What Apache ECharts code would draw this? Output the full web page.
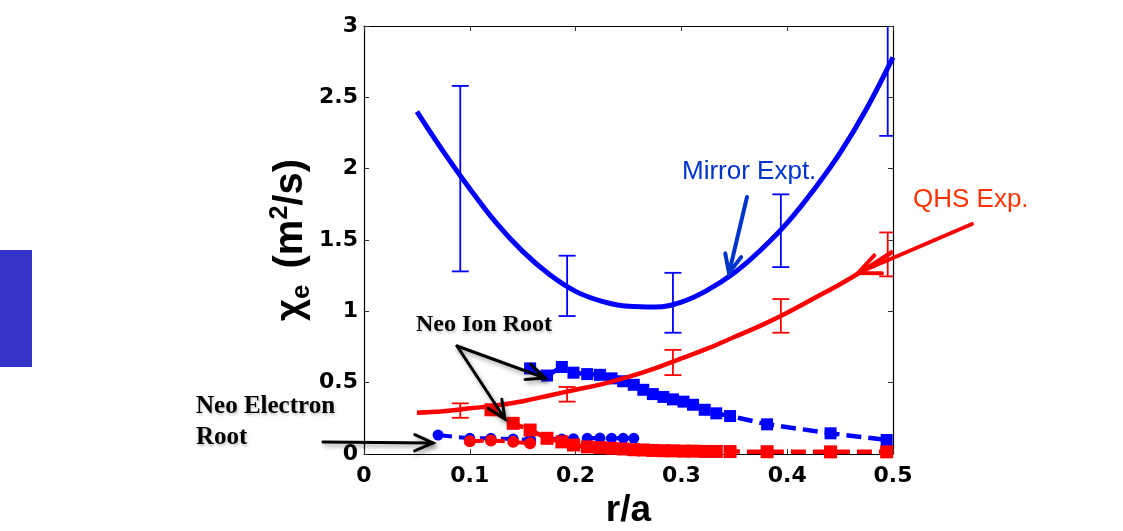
<!DOCTYPE html>
<html><head><meta charset="utf-8">
<script src="https://cdn.jsdelivr.net/npm/echarts@6/dist/echarts.min.js"></script>
<style>html,body{margin:0;padding:0;background:#fff}#c{width:1123px;height:531px}</style>
</head><body><div id="c"></div>
<script>
// ---- data ----
const xTickValues = [0, 0.1, 0.2, 0.3, 0.4, 0.5];
const yTickValues = [0, 0.5, 1, 1.5, 2, 2.5, 3];

// Experimental error bars: [r/a, low, high]
const mirrorErrX = [0.091, 0.192, 0.292, 0.394, 0.495];
const mirrorErrLow = [1.28, 0.967, 0.85, 1.31, 2.23];
const mirrorErrHigh = [2.58, 1.39, 1.27, 1.82, 3.33];

const qhsErrX = [0.091, 0.192, 0.292, 0.394, 0.495];
const qhsErrLow = [0.254, 0.367, 0.553, 0.85, 1.245];
const qhsErrHigh = [0.355, 0.47, 0.73, 1.086, 1.553];

// Fitted curves
const fitX = [0.05, 0.075, 0.1, 0.125, 0.15, 0.175, 0.2, 0.225, 0.25, 0.275, 0.3, 0.325, 0.35, 0.375, 0.4, 0.425, 0.45, 0.475, 0.5];
const mirrorFit = [2.40, 2.12, 1.86, 1.62, 1.42, 1.26, 1.14, 1.07, 1.035, 1.03, 1.065, 1.15, 1.27, 1.43, 1.62, 1.85, 2.11, 2.42, 2.78];
const qhsFit = [0.29, 0.30, 0.32, 0.34, 0.37, 0.41, 0.45, 0.49, 0.54, 0.60, 0.67, 0.74, 0.82, 0.90, 0.99, 1.09, 1.19, 1.30, 1.42];

// Neoclassical ion root (squares)
const neoIonBlueX = [0.157, 0.173, 0.187, 0.198, 0.211, 0.223, 0.234, 0.245, 0.255, 0.264, 0.273, 0.283, 0.292, 0.302, 0.311, 0.322, 0.333, 0.346, 0.381, 0.441, 0.494];
const neoIonBlue = [0.60, 0.55, 0.61, 0.57, 0.56, 0.555, 0.53, 0.51, 0.485, 0.45, 0.42, 0.40, 0.383, 0.367, 0.345, 0.31, 0.285, 0.266, 0.208, 0.145, 0.098];
const neoIonRedX = [0.12, 0.141, 0.157, 0.173, 0.187, 0.198, 0.211, 0.223, 0.234, 0.245, 0.255, 0.264, 0.273, 0.283, 0.292, 0.302, 0.311, 0.322, 0.333, 0.346, 0.381, 0.441, 0.494];
const neoIonRed = [0.31, 0.215, 0.168, 0.11, 0.085, 0.063, 0.05, 0.045, 0.04, 0.035, 0.03, 0.028, 0.025, 0.023, 0.022, 0.02, 0.02, 0.018, 0.018, 0.017, 0.016, 0.015, 0.015];

// Neoclassical electron root (circles)
const neoElecBlueX = [0.07, 0.1, 0.12, 0.141, 0.157, 0.173, 0.187, 0.198, 0.211, 0.223, 0.234, 0.245, 0.255];
const neoElecBlue = [0.133, 0.11, 0.11, 0.105, 0.10, 0.105, 0.105, 0.107, 0.11, 0.112, 0.11, 0.11, 0.11];
const neoElecRedX = [0.1, 0.12, 0.141, 0.157];
const neoElecRed = [0.09, 0.095, 0.085, 0.075];

// ---- helpers ----
const zip = (xs, ys) => xs.map((x, i) => [x, ys[i]]);
const zip3 = (xs, a, b) => xs.map((x, i) => [x, a[i], b[i]]);

function errorBarSeries(data, color) {
  return {
    type: 'custom', data: data, clip: true, z: 3,
    renderItem: function (params, api) {
      const x = api.value(0), lo = api.value(1), hi = api.value(2);
      const p1 = api.coord([x, lo]), p2 = api.coord([x, hi]);
      const hw = 8.5;
      const st = { stroke: color, lineWidth: 1.8 };
      return { type: 'group', children: [
        { type: 'line', shape: { x1: p1[0], y1: p1[1], x2: p2[0], y2: p2[1] }, style: st },
        { type: 'line', shape: { x1: p1[0] - hw, y1: p1[1], x2: p1[0] + hw, y2: p1[1] }, style: st },
        { type: 'line', shape: { x1: p2[0] - hw, y1: p2[1], x2: p2[0] + hw, y2: p2[1] }, style: st }
      ]};
    }
  };
}

const shadow = { shadowColor: 'rgba(0,0,0,0.35)', shadowBlur: 4, shadowOffsetX: 2, shadowOffsetY: 3 };
function arrow(x1, y1, x2, y2, color, width, head, withShadow) {
  const a = Math.atan2(y2 - y1, x2 - x1), ang = 0.42;
  const p1 = [x2 - head * Math.cos(a - ang), y2 - head * Math.sin(a - ang)];
  const p2 = [x2 - head * Math.cos(a + ang), y2 - head * Math.sin(a + ang)];
  const st = Object.assign({ stroke: color, lineWidth: width, fill: null, lineCap: 'round', lineJoin: 'miter' }, withShadow ? shadow : {});
  return [
    { type: 'line', z: 100, shape: { x1: x1, y1: y1, x2: x2, y2: y2 }, style: st },
    { type: 'polyline', z: 100, shape: { points: [p1, [x2, y2], p2] }, style: st }
  ];
}

const tickFont = { fontFamily: '"DejaVu Sans"', fontWeight: 'bold', fontSize: 22, color: '#000' };
const nameFont = '"Liberation Sans", Arial';

const chart = echarts.init(document.getElementById('c'));
const option = {
  animation: false,
  backgroundColor: '#fff',
  grid: { left: 364, right: 230, top: 26, bottom: 77, containLabel: false, outerBoundsMode: 'none' },
  xAxis: [
    { type: 'value', min: 0, max: 0.5, interval: 0.1, position: 'bottom',
      name: 'r/a', nameLocation: 'middle', nameGap: 34,
      nameTextStyle: { fontFamily: nameFont, fontWeight: 'bold', fontSize: 37, color: '#000', verticalAlign: 'top' },
      axisLine: { show: true, onZero: false, lineStyle: { color: '#000', width: 1.2 } },
      axisTick: { show: true, inside: true, length: 5, lineStyle: { color: '#333' } },
      axisLabel: Object.assign({ margin: 11, formatter: v => String(v) }, tickFont),
      splitLine: { show: false } },
    { type: 'value', min: 0, max: 0.5, interval: 0.1, position: 'top',
      axisLine: { show: true, onZero: false, lineStyle: { color: '#000', width: 1.2 } },
      axisTick: { show: true, inside: true, length: 5, lineStyle: { color: '#333' } },
      axisLabel: { show: false }, splitLine: { show: false } }
  ],
  yAxis: [
    { type: 'value', min: 0, max: 3, interval: 0.5, position: 'left',
      name: '{c|χ}{s|e}{t| (m}{p|2}{t|/s)}', nameLocation: 'middle', nameRotate: 90, nameGap: 44,
      nameTextStyle: {
        rich: {
          c: { fontFamily: nameFont, fontWeight: 'bold', fontSize: 38, color: '#000', lineHeight: 48 },
          t: { fontFamily: nameFont, fontWeight: 'bold', fontSize: 40, color: '#000', lineHeight: 48 },
          s: { fontFamily: nameFont, fontWeight: 'bold', fontSize: 26, color: '#000', lineHeight: 26, verticalAlign: 'bottom', padding: [0, 5, 0, 0] },
          p: { fontFamily: nameFont, fontWeight: 'bold', fontSize: 25, color: '#000', lineHeight: 25, verticalAlign: 'top' }
        }
      },
      axisLine: { show: true, onZero: false, lineStyle: { color: '#000', width: 1.2 } },
      axisTick: { show: true, inside: true, length: 5, lineStyle: { color: '#333' } },
      axisLabel: Object.assign({ margin: 6, formatter: v => String(v) }, tickFont),
      splitLine: { show: false } },
    { type: 'value', min: 0, max: 3, interval: 0.5, position: 'right',
      axisLine: { show: true, onZero: false, lineStyle: { color: '#000', width: 1.2 } },
      axisTick: { show: true, inside: true, length: 5, lineStyle: { color: '#333' } },
      axisLabel: { show: false }, splitLine: { show: false } }
  ],
  series: [
    errorBarSeries(zip3(mirrorErrX, mirrorErrLow, mirrorErrHigh), '#0000FF'),
    errorBarSeries(zip3(qhsErrX, qhsErrLow, qhsErrHigh), '#FF0000'),
    { type: 'line', data: zip(neoElecBlueX, neoElecBlue), symbol: 'circle', symbolSize: 11,
      itemStyle: { color: '#0000FF' }, lineStyle: { color: '#0000FF', width: 4, type: [14, 7] }, z: 4 },
    { type: 'line', data: zip(neoElecRedX, neoElecRed), symbol: 'circle', symbolSize: 12,
      itemStyle: { color: '#FF0000' }, lineStyle: { color: '#FF0000', width: 4, type: [14, 7] }, z: 4 },
    { type: 'line', data: zip(neoIonBlueX, neoIonBlue), symbol: 'rect', symbolSize: 12,
      itemStyle: { color: '#0000FF' }, lineStyle: { color: '#0000FF', width: 4.5, type: [15, 7] }, z: 4 },
    { type: 'line', data: zip(neoIonRedX, neoIonRed), symbol: 'rect', symbolSize: 13,
      itemStyle: { color: '#FF0000' }, lineStyle: { color: '#FF0000', width: 4.5, type: [15, 7] }, z: 4 },
    { type: 'line', data: zip(fitX, mirrorFit), smooth: 0.4, symbol: 'none',
      lineStyle: { color: '#0000FF', width: 5 }, z: 5 },
    { type: 'line', data: zip(fitX, qhsFit), smooth: 0.4, symbol: 'none',
      lineStyle: { color: '#FF0000', width: 4.5 }, z: 5 }
  ],
  graphic: [
    { type: 'rect', shape: { x: 0, y: 250, width: 32, height: 117 }, style: { fill: '#3434CB' } },
    { type: 'text', x: 682, y: 172, z: 100, style: { text: 'Mirror Expt.', font: '26px "Liberation Sans", Arial', fill: '#0033CC', align: 'left', verticalAlign: 'middle' } },
    { type: 'text', x: 913, y: 200, z: 100, style: { text: 'QHS Exp.', font: '26px "Liberation Sans", Arial', fill: '#FF3300', align: 'left', verticalAlign: 'middle' } },
    { type: 'text', x: 416, y: 325, z: 100, style: { text: 'Neo Ion Root', font: 'bold 24px "Liberation Serif", "Times New Roman", serif', fill: '#000', align: 'left', verticalAlign: 'middle', textShadowColor: 'rgba(0,0,0,0.25)', textShadowBlur: 3, textShadowOffsetX: 1, textShadowOffsetY: 2 } },
    { type: 'text', x: 196, y: 407, z: 100, style: { text: 'Neo Electron', font: 'bold 25px "Liberation Serif", "Times New Roman", serif', fill: '#000', align: 'left', verticalAlign: 'middle', textShadowColor: 'rgba(0,0,0,0.25)', textShadowBlur: 3, textShadowOffsetX: 1, textShadowOffsetY: 2 } },
    { type: 'text', x: 196, y: 438, z: 100, style: { text: 'Root', font: 'bold 25px "Liberation Serif", "Times New Roman", serif', fill: '#000', align: 'left', verticalAlign: 'middle', textShadowColor: 'rgba(0,0,0,0.25)', textShadowBlur: 3, textShadowOffsetX: 1, textShadowOffsetY: 2 } }
  ]
    .concat(arrow(747, 197, 729, 273, '#0033CC', 4, 20, false))
    .concat(arrow(972, 224, 858, 273, '#FF0000', 4, 24, false))
    .concat(arrow(457, 346, 545, 378, '#000', 3, 20, true))
    .concat(arrow(457, 346, 505, 419, '#000', 3, 20, true))
    .concat(arrow(323, 442, 433, 443, '#000', 3, 20, true))
};
chart.setOption(option);
</script>
</body></html>
